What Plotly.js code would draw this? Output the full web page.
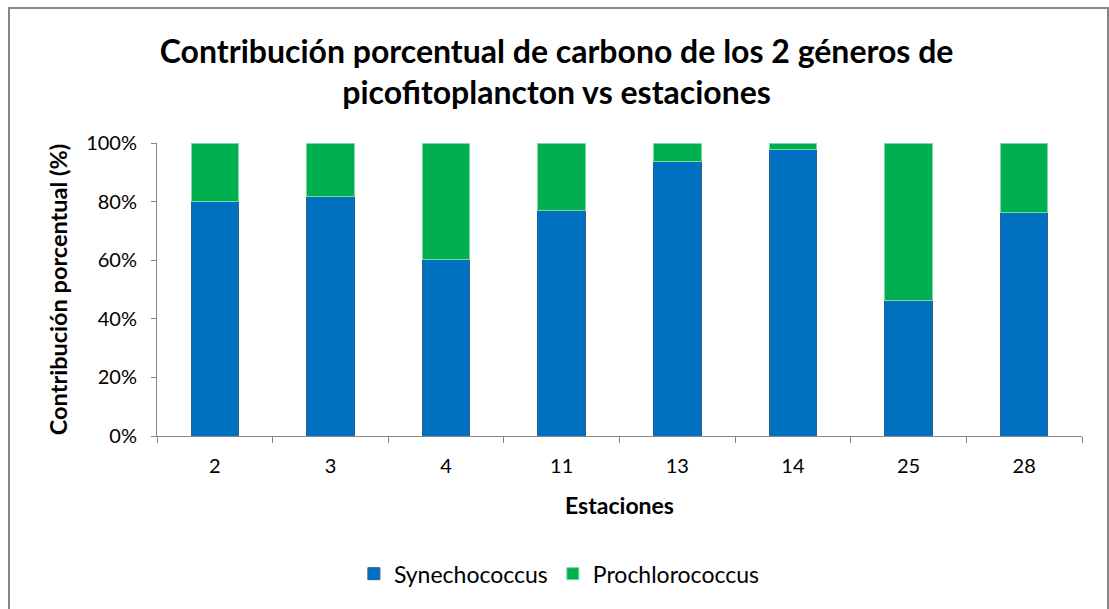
<!DOCTYPE html>
<html>
<head>
<meta charset="utf-8">
<script src="https://cdn.plot.ly/plotly-3.0.1.min.js"></script>
<style>
  html, body { margin: 0; padding: 0; background: #fff; }
  #chart { width: 1109px; height: 609px; }
  #frame { position: absolute; left: 8px; top: 7px; width: 1097px; height: 700px;
           border: 2px solid #868686; pointer-events: none; }
</style>
</head>
<body>
<div id="chart"></div>
<div id="frame"></div>
<script>
const estaciones = ['2', '3', '4', '11', '13', '14', '25', '28'];
const synechococcus = [80.2, 81.8, 60.3, 77.1, 93.8, 97.8, 46.2, 76.4];
const prochlorococcus = [19.8, 18.2, 39.7, 22.9, 6.2, 2.2, 53.8, 23.6];

const FONT = 'Lato, "Open Sans", sans-serif';

const traces = [
  {
    type: 'bar', name: 'Synechococcus', x: estaciones, y: synechococcus,
    marker: { color: '#0070C0', line: { color: '#2F5C91', width: 1 } },
    hoverinfo: 'x+y'
  },
  {
    type: 'bar', name: 'Prochlorococcus', x: estaciones, y: prochlorococcus,
    marker: { color: '#00B050', line: { color: '#7ED9A0', width: 1 } },
    hoverinfo: 'x+y'
  }
];

const layout = {
  width: 1109, height: 609,
  barmode: 'stack',
  bargap: 0.59,
  paper_bgcolor: '#ffffff',
  plot_bgcolor: '#ffffff',
  margin: { l: 157, r: 27, t: 143, b: 173 },
  font: { family: FONT, color: '#000000' },
  title: {
    text: '<b>Contribución porcentual de carbono de los 2 géneros de<br>picofitoplancton vs estaciones</b>',
    font: { family: FONT, size: 32, color: '#000000' },
    x: 0.432, xanchor: 'center', xref: 'paper',
    y: 0.897, yanchor: 'top', yref: 'container'
  },
  xaxis: {
    type: 'category',
    range: [-0.5, 7.5],
    showline: true, linecolor: '#868686', linewidth: 1,
    ticks: 'outside', tickson: 'boundaries', ticklen: 6, tickcolor: '#868686',
    tickfont: { family: FONT, size: 20, color: '#000' },
    ticklabelstandoff: 12,
    showgrid: false, zeroline: false,
    title: { text: '<b>Estaciones</b>', font: { family: FONT, size: 23, color: '#000' }, standoff: 21 }
  },
  yaxis: {
    range: [0, 100],
    tickvals: [0, 20, 40, 60, 80, 100],
    ticktext: ['0%', '20%', '40%', '60%', '80%', '100%'],
    showline: true, linecolor: '#868686', linewidth: 1,
    ticks: 'outside', ticklen: 5, tickcolor: '#868686',
    tickfont: { family: FONT, size: 20, color: '#000' },
    ticklabelstandoff: 10,
    showgrid: false, zeroline: false,
    title: { text: '<b>Contribución porcentual (%)</b>', font: { family: FONT, size: 23.5, color: '#000' }, standoff: 11 }
  },
  showlegend: true,
  legend: {
    orientation: 'h', x: 0.435, xanchor: 'center', y: -0.47, yanchor: 'middle',
    font: { family: FONT, size: 23, color: '#000' },
    traceorder: 'normal', itemwidth: 30
  }
};

Plotly.newPlot('chart', traces, layout, { displayModeBar: false, staticPlot: true });
</script>
</body>
</html>
